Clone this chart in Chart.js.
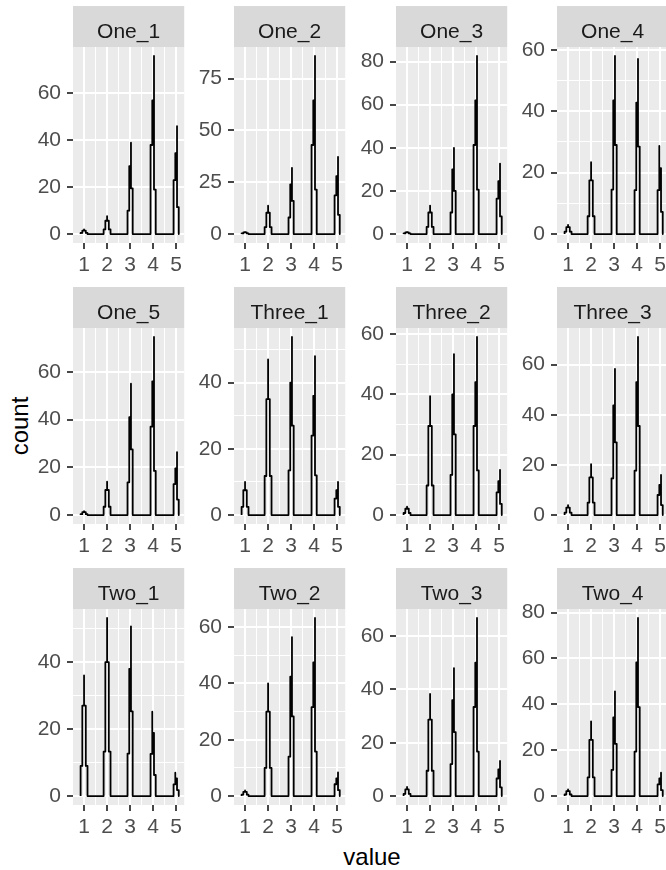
<!DOCTYPE html>
<html>
<head>
<meta charset="utf-8">
<script src="https://cdn.jsdelivr.net/npm/chart.js@4"></script>
<style>
  body { margin: 0; width: 666px; height: 870px; overflow: hidden; background: #fff; position: relative; font-family: "Liberation Sans", Arial, sans-serif; }
  canvas { position: absolute; }
  .axis-title { position: absolute; font-size: 24px; color: #000; white-space: nowrap; transform: translate(-50%, -50%); }
</style>
</head>
<body>
<div class="axis-title" style="left:20px; top:426px; transform: translate(-50%, -50%) rotate(-90deg);">count</div>
<div class="axis-title" style="left:372px; top:857px;">value</div>

<script>
// facet names and the answer values on the x axis
const panelNames = ['One_1', 'One_2', 'One_3', 'One_4', 'One_5', 'Three_1', 'Three_2', 'Three_3', 'Two_1', 'Two_2', 'Two_3', 'Two_4'];
const values = [1, 2, 3, 4, 5];

// each spike: the count levels the line steps through around one value
const one1 = [[0.5, 1.5, 2, 1.5, 0.5], [2, 5.7, 7.6, 5.7, 2], [10, 29, 39, 19.5], [38, 57, 76, 19], [23, 34.5, 46, 11.5]];
const one2 = [[0.3, 0.8, 1, 0.8, 0.3], [3.4, 10.3, 13.7, 10.3, 3.4], [8, 24, 32, 16], [43, 64.5, 86, 21.5], [18.7, 28, 37.3, 9.3]];
const one3 = [[0.3, 0.8, 1, 0.8, 0.3], [3.3, 10, 13.2, 10, 3.3], [10, 30, 40, 20], [41.3, 62, 82.6, 20.6], [16.4, 24.5, 32.7, 8.2]];
const one4 = [[0.8, 2.3, 3, 2.3, 0.8], [5.8, 17.5, 23.4, 17.5, 5.8], [14.5, 43.5, 58, 29], [14.3, 42.8, 57, 28.5], [14.3, 28.7, 21.5, 7.2]];
const one5 = [[0.4, 1.2, 1.6, 1.2, 0.4], [3.5, 10.5, 14, 10.5, 3.5], [13.7, 41, 55, 27.5], [37, 56, 74.6, 18.5], [13, 19.5, 26.4, 6.5]];
const three1 = [[2.5, 7.5, 10, 7.5, 2.5], [11.8, 35, 47, 35, 11.8], [13.5, 40, 53.8, 27], [24, 36, 48, 12], [5, 7.5, 10, 2.5]];
const three2 = [[0.7, 2.1, 2.8, 2.1, 0.7], [9.8, 29.5, 39.4, 29.5, 9.8], [13.3, 40, 53.3, 26.7], [29.5, 44, 59, 14.8], [7.5, 11.2, 15, 3.7]];
const three3 = [[1, 3, 4, 3, 1], [5, 15, 20.3, 15, 5], [14.6, 43.7, 58.3, 29], [17.7, 53, 71, 35.5], [8, 12, 16, 4]];
const two1 = [[9, 27, 36, 27, 9], [13.3, 40, 53.2, 40, 13.3], [12.7, 38, 50.7, 25.3], [12.6, 25.2, 18.9, 6.3], [3.5, 7, 5.3, 1.8]];
const two2 = [[0.5, 1.5, 2, 1.5, 0.5], [10, 30, 40, 30, 10], [14, 42.4, 56.5, 28.3], [31.6, 47.5, 63.3, 15.8], [4.2, 6.3, 8.4, 2.1]];
const two3 = [[0.8, 2.5, 3.4, 2.5, 0.8], [9.5, 28.7, 38.3, 28.7, 9.5], [12, 36, 48, 24], [33.4, 50, 66.8, 16.7], [6.6, 10, 13.2, 3.3]];
const two4 = [[0.7, 2.2, 2.9, 2.2, 0.7], [8.2, 24.5, 32.6, 24.5, 8.2], [11.4, 34.3, 45.7, 22.8], [19.4, 58.3, 77.7, 38.8], [5.1, 7.7, 10.2, 2.6]];

// y axis breaks of every facet (free scales)
const ticks20 = [0, 20, 40, 60];
const ticks25 = [0, 25, 50, 75];
const ticks80 = [0, 20, 40, 60, 80];
const ticks40 = [0, 20, 40];

const panelSeries = [one1, one2, one3, one4, one5, three1, three2, three3, two1, two2, two3, two4];
const panelTicks = [ticks20, ticks25, ticks80, ticks20, ticks20, ticks40, ticks20, ticks20, ticks40, ticks20, ticks20, ticks80];

// layout
const colLeft = [73, 234, 396, 557];
const rowTop = [6, 287, 568];
const panelW = 113;
const stripH = 41;
const panelBottom = 237;
const axisW = 70;
const axisH = 42;
const fontFamily = '"Liberation Sans", Arial, sans-serif';

function spikePoints(k, levels) {
  const n = levels.length;
  const p = levels.indexOf(Math.max(...levels));
  const w = 0.075;
  const h = [0, ...levels, 0];
  const pts = [];
  for (let j = 0; j <= n; j++) {
    const col = j <= p ? j : j - 1;
    const x = k + (col - (n - 1) / 2) * w;
    pts.push({ x: x, y: h[j] }, { x: x, y: h[j + 1] });
  }
  return pts;
}

const panelBg = {
  id: 'panelBg',
  beforeDraw(chart, args, opts) {
    const { ctx, chartArea: a } = chart;
    ctx.save();
    ctx.fillStyle = '#EBEBEB';
    ctx.fillRect(a.left, a.top, a.right - a.left, a.bottom - a.top);
    ctx.fillStyle = '#D9D9D9';
    ctx.fillRect(a.left, 0, a.right - a.left, stripH);
    ctx.fillStyle = '#1A1A1A';
    ctx.font = '21px ' + fontFamily;
    ctx.textAlign = 'center';
    ctx.textBaseline = 'alphabetic';
    ctx.fillText(opts.label, (a.left + a.right) / 2, 32);
    ctx.restore();
  }
};

function isMajor(ctx, majors) {
  return ctx.tick && majors.includes(ctx.tick.value);
}

panelNames.forEach(function(name, i) {
  const row = Math.floor(i / 4), col = i % 4;
  const canvas = document.createElement('canvas');
  canvas.width = axisW + panelW;
  canvas.height = panelBottom + axisH;
  canvas.style.left = (colLeft[col] - axisW) + 'px';
  canvas.style.top = rowTop[row] + 'px';
  document.body.appendChild(canvas);

  const series = panelSeries[i];
  let points = [];
  series.forEach(function(levels, v) { points = points.concat(spikePoints(values[v], levels)); });
  const peak = Math.max(...series.map(s => Math.max(...s)));
  const yMajors = panelTicks[i];
  const yStep = yMajors[1] - yMajors[0];
  const yMax = peak * 1.05, yMin = -peak * 0.05;
  const yAll = [];
  yMajors.forEach(t => { yAll.push(t); if (t + yStep / 2 <= yMax) yAll.push(t + yStep / 2); });
  const xAll = [];
  values.forEach((v, j) => { xAll.push(v); if (j < values.length - 1) xAll.push(v + 0.5); });

  const tickFont = { size: 21, family: fontFamily };

  new Chart(canvas.getContext('2d'), {
    type: 'line',
    data: {
      datasets: [{
        data: points,
        borderColor: '#000',
        borderWidth: 1.8,
        borderJoinStyle: 'round',
        pointRadius: 0,
        fill: false,
        tension: 0
      }]
    },
    plugins: [panelBg],
    options: {
      responsive: false,
      animation: false,
      events: [],
      layout: { padding: { top: stripH, left: 0, right: 0, bottom: 0 }, autoPadding: false },
      plugins: {
        legend: { display: false },
        tooltip: { enabled: false },
        panelBg: { label: name }
      },
      scales: {
        x: {
          type: 'linear',
          min: 0.52,
          max: 5.35,
          afterBuildTicks: s => { s.ticks = xAll.map(v => ({ value: v })); },
          afterFit: s => { s.height = axisH; },
          border: { display: false },
          grid: {
            color: '#fff',
            lineWidth: c => isMajor(c, values) ? 2 : 1,
            tickColor: c => isMajor(c, values) ? '#333' : 'rgba(0,0,0,0)',
            tickWidth: 1.8,
            tickLength: 6
          },
          ticks: {
            autoSkip: false,
            maxRotation: 0,
            padding: 4,
            color: '#4D4D4D',
            font: tickFont,
            callback: v => values.includes(v) ? String(v) : ''
          }
        },
        y: {
          min: yMin,
          max: yMax,
          afterBuildTicks: s => { s.ticks = yAll.map(v => ({ value: v })); },
          afterFit: s => { s.width = axisW; },
          border: { display: false },
          grid: {
            color: '#fff',
            lineWidth: c => isMajor(c, yMajors) ? 2 : 1,
            tickColor: c => isMajor(c, yMajors) ? '#333' : 'rgba(0,0,0,0)',
            tickWidth: 1.8,
            tickLength: 6
          },
          ticks: {
            padding: 6,
            color: '#4D4D4D',
            font: tickFont,
            callback: v => yMajors.includes(v) ? String(v) : ''
          }
        }
      }
    }
  });
});
</script>
</body>
</html>
